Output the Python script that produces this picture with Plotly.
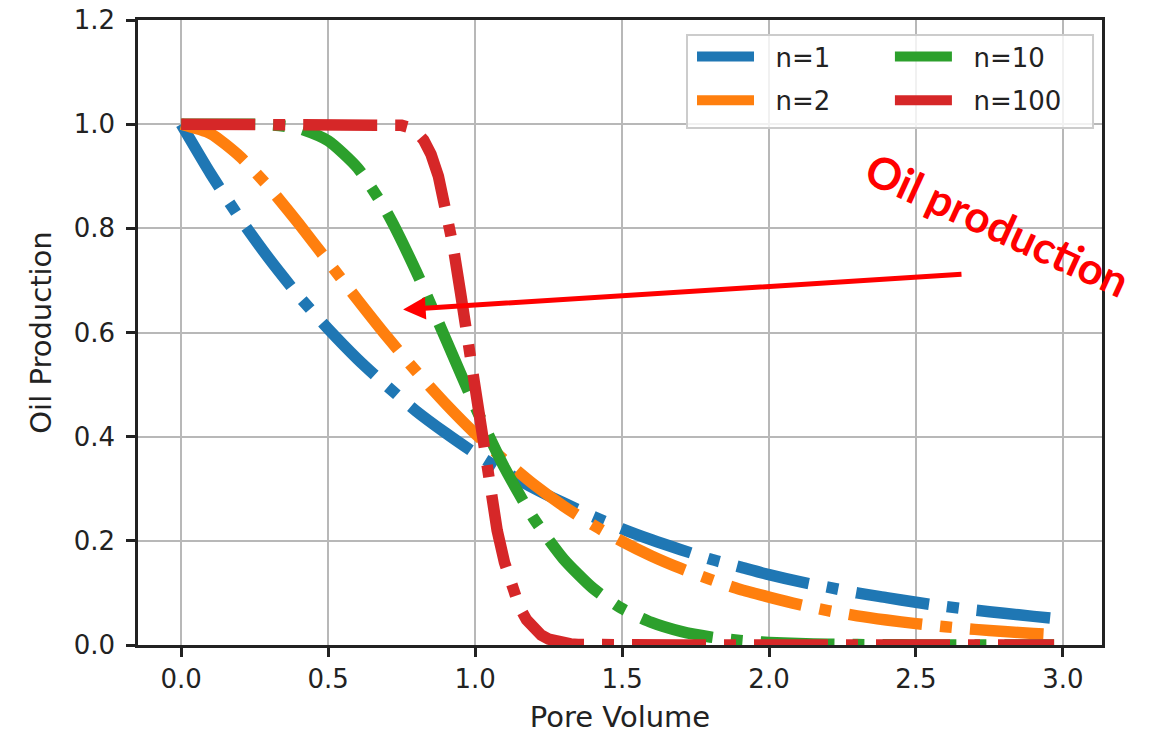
import plotly.graph_objects as go

# ---------------- data ----------------
pore_volume = [0.0, 0.1, 0.2, 0.3, 0.4, 0.5, 0.6, 0.7, 0.8, 0.9,
               1.0, 1.1, 1.2, 1.3, 1.4, 1.5, 1.6, 1.7, 1.8, 1.9,
               2.0, 2.1, 2.2, 2.3, 2.4, 2.5, 2.6, 2.7, 2.8, 2.9, 2.97]

oil_n1 = [1.0, 0.905, 0.819, 0.741, 0.670, 0.607, 0.549, 0.497, 0.449, 0.407,
          0.368, 0.333, 0.301, 0.273, 0.247, 0.223, 0.202, 0.183, 0.165, 0.150,
          0.135, 0.122, 0.111, 0.100, 0.091, 0.082, 0.074, 0.067, 0.061, 0.055, 0.051]

oil_n2 = [1.0, 0.982, 0.938, 0.878, 0.809, 0.736, 0.663, 0.592, 0.525, 0.463,
          0.406, 0.355, 0.308, 0.267, 0.231, 0.199, 0.171, 0.147, 0.126, 0.107,
          0.092, 0.078, 0.066, 0.056, 0.048, 0.041, 0.035, 0.030, 0.026, 0.022, 0.020]

oil_n10 = [1.0, 1.0, 1.0, 0.9989, 0.9919, 0.9682, 0.9161, 0.8305, 0.7166, 0.5874,
           0.4579, 0.3405, 0.2424, 0.1658, 0.1094, 0.0699, 0.0433, 0.0261, 0.0154, 0.0089,
           0.0050, 0.0028, 0.0015, 0.0008, 0.0004, 0.0002, 0.0001, 0.0, 0.0, 0.0, 0.0]

pore_volume_n100 = [0.0, 0.1, 0.2, 0.3, 0.4, 0.5, 0.6, 0.7, 0.725, 0.75,
                    0.775, 0.8, 0.825, 0.85, 0.875, 0.9, 0.925, 0.95, 0.975, 1.0,
                    1.025, 1.05, 1.075, 1.1, 1.125, 1.15, 1.175, 1.2, 1.225, 1.25,
                    1.275, 1.3, 1.325, 1.35, 1.4, 1.5, 1.6, 1.7, 1.8, 1.9,
                    2.0, 2.1, 2.2, 2.3, 2.4, 2.5, 2.6, 2.7, 2.8, 2.9, 2.97]

oil_n100 = [1.0, 1.0, 1.0, 1.0, 1.0, 1.0, 1.0, 0.9998, 0.9992, 0.9977,
            0.9938, 0.9854, 0.9694, 0.9421, 0.9002, 0.8416, 0.7667, 0.6778, 0.5803, 0.4867,
            0.3835, 0.2957, 0.2202, 0.1584, 0.1102, 0.0741, 0.0484, 0.0306, 0.0189, 0.0113,
            0.0066, 0.0037, 0.0020, 0.0011, 0.0003, 0.0, 0.0, 0.0, 0.0, 0.0,
            0.0, 0.0, 0.0, 0.0, 0.0, 0.0, 0.0, 0.0, 0.0, 0.0, 0.0]

series_names = ["n=1", "n=2", "n=10", "n=100"]
series_colors = ["#1f77b4", "#ff7f0e", "#2ca02c", "#d62728"]
legend_columns = ["legend", "legend", "legend2", "legend2"]  # 2-column legend

x_ticks = [0.0, 0.5, 1.0, 1.5, 2.0, 2.5, 3.0]
y_ticks = [0.0, 0.2, 0.4, 0.6, 0.8, 1.0, 1.2]

# ---------------- figure ----------------
FONT = "DejaVu Sans"
LW = 11.5
DASH = "74px,18px,12px,18px"
NBSP = "\u00a0"

fig = go.Figure()

series_x = [pore_volume, pore_volume, pore_volume, pore_volume_n100]
series_y = [oil_n1, oil_n2, oil_n10, oil_n100]
shapes = ["spline", "spline", "spline", "linear"]

for name, color, xs, ys, shp in zip(series_names, series_colors, series_x, series_y, shapes):
    fig.add_trace(go.Scatter(
        x=xs, y=ys, mode="lines", name=name, showlegend=False,
        line=dict(color=color, width=LW, dash=DASH, shape=shp, smoothing=0.6),
        hoverinfo="skip",
    ))

# legend entries (solid sample lines)
for name, color, leg in zip(series_names, series_colors, legend_columns):
    fig.add_trace(go.Scatter(
        x=[None], y=[None], mode="lines", name=NBSP * 2 + name,
        legend=leg, legendgroup=name,
        line=dict(color=color, width=LW),
    ))

axis_common = dict(
    showgrid=True, gridcolor="#b8b8b8", gridwidth=2,
    showline=True, linecolor="#222222", linewidth=2.5, mirror=True,
    ticks="outside", ticklen=9, tickwidth=2.5, tickcolor="#222222",
    zeroline=False, automargin=False,
    tickfont=dict(family=FONT, size=26, color="#222222"),
)

legend_common = dict(
    orientation="v", xanchor="left", yanchor="top",
    bgcolor="rgba(0,0,0,0)", borderwidth=0,
    font=dict(family=FONT, size=26, color="#222222"),
    itemwidth=57, tracegroupgap=7,
)

fig.update_layout(
    width=1151, height=734,
    margin=dict(l=138, r=49, t=20, b=89, autoexpand=False),
    paper_bgcolor="white", plot_bgcolor="white",
    font=dict(family=FONT, size=26, color="#222222"),
    xaxis=dict(
        range=[-0.147, 3.133], tickvals=x_ticks, tickformat=".1f",
        title=dict(text="Pore Volume", font=dict(family=FONT, size=29, color="#222222"), standoff=14),
        **axis_common,
    ),
    yaxis=dict(
        range=[0, 1.2], tickvals=y_ticks, tickformat=".1f", ticklabelstandoff=6,
        title=dict(text="Oil Production", font=dict(family=FONT, size=29, color="#222222"), standoff=14),
        **axis_common,
    ),
    legend=dict(x=0.5747, y=0.979, **legend_common),
    legend2=dict(x=0.780, y=0.979, **legend_common),
    showlegend=True,
    shapes=[dict(
        type="rect", xref="paper", yref="paper",
        x0=0.5695, x1=0.9907, y0=0.8272, y1=0.976,
        fillcolor="rgba(255,255,255,0.8)", line=dict(color="#cccccc", width=2),
        layer="above",
    )],
)

# arrow
fig.add_annotation(
    x=0.755, y=0.644, xref="x", yref="y",
    ax=2.66, ay=0.712, axref="x", ayref="y",
    text="", showarrow=True, arrowhead=2, arrowsize=0.9, arrowwidth=5,
    arrowcolor="#ff0000", standoff=0,
)
# rotated label
fig.add_annotation(
    x=2.776, y=0.808, xref="x", yref="y",
    text="<b>Oil production</b>", showarrow=False, textangle=24.5,
    font=dict(family="Lato", size=44, color="#ff0000"),
)

fig.write_html("out.html")
